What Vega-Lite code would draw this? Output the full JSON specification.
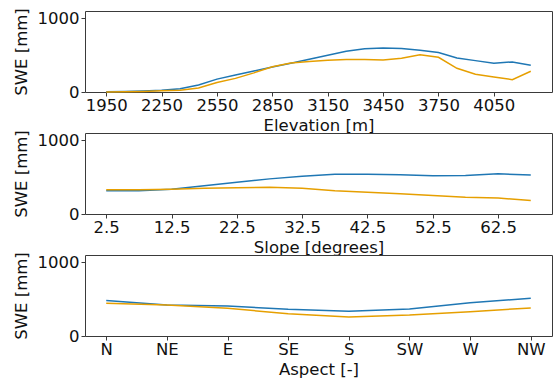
{
  "$schema": "https://vega.github.io/schema/vega-lite/v6.json",
  "autosize": {"type": "pad"},
  "padding": {"left": 12, "top": 7, "right": 0, "bottom": 0},
  "background": "white",
  "bounds": "flush",
  "spacing": 41,
  "config": {
    "font": "DejaVu Sans",
    "view": {"stroke": "#3a3a3a", "strokeWidth": 1},
    "axis": {
      "grid": false,
      "domain": false,
      "labelFont": "DejaVu Sans",
      "labelFontSize": 16.5,
      "labelColor": "#111",
      "titleFont": "DejaVu Sans",
      "titleFontSize": 16.5,
      "titleFontWeight": "normal",
      "titleColor": "#111",
      "tickColor": "#3a3a3a",
      "tickSize": 4,
      "labelPadding": 2
    },
    "axisY": {"titlePadding": 8},
    "axisX": {"titlePadding": 4, "labelPadding": 1, "labelAngle": 0},
    "line": {"strokeWidth": 1.5}
  },
  "datasets": {
    "elevation": [
      {"elev": 1950, "set": "A", "swe": 5}, {"elev": 1950, "set": "B", "swe": 0},
      {"elev": 2050, "set": "A", "swe": 8}, {"elev": 2050, "set": "B", "swe": 3},
      {"elev": 2150, "set": "A", "swe": 13}, {"elev": 2150, "set": "B", "swe": 8},
      {"elev": 2250, "set": "A", "swe": 23}, {"elev": 2250, "set": "B", "swe": 16},
      {"elev": 2350, "set": "A", "swe": 45}, {"elev": 2350, "set": "B", "swe": 25},
      {"elev": 2450, "set": "A", "swe": 95}, {"elev": 2450, "set": "B", "swe": 55},
      {"elev": 2550, "set": "A", "swe": 175}, {"elev": 2550, "set": "B", "swe": 130},
      {"elev": 2650, "set": "A", "swe": 230}, {"elev": 2650, "set": "B", "swe": 185},
      {"elev": 2750, "set": "A", "swe": 285}, {"elev": 2750, "set": "B", "swe": 260},
      {"elev": 2850, "set": "A", "swe": 340}, {"elev": 2850, "set": "B", "swe": 342},
      {"elev": 2950, "set": "A", "swe": 390}, {"elev": 2950, "set": "B", "swe": 395},
      {"elev": 3050, "set": "A", "swe": 445}, {"elev": 3050, "set": "B", "swe": 415},
      {"elev": 3150, "set": "A", "swe": 500}, {"elev": 3150, "set": "B", "swe": 432},
      {"elev": 3250, "set": "A", "swe": 553}, {"elev": 3250, "set": "B", "swe": 440},
      {"elev": 3350, "set": "A", "swe": 588}, {"elev": 3350, "set": "B", "swe": 440},
      {"elev": 3450, "set": "A", "swe": 598}, {"elev": 3450, "set": "B", "swe": 435},
      {"elev": 3550, "set": "A", "swe": 592}, {"elev": 3550, "set": "B", "swe": 458},
      {"elev": 3650, "set": "A", "swe": 566}, {"elev": 3650, "set": "B", "swe": 505},
      {"elev": 3750, "set": "A", "swe": 535}, {"elev": 3750, "set": "B", "swe": 471},
      {"elev": 3850, "set": "A", "swe": 462}, {"elev": 3850, "set": "B", "swe": 322},
      {"elev": 3950, "set": "A", "swe": 426}, {"elev": 3950, "set": "B", "swe": 240},
      {"elev": 4050, "set": "A", "swe": 390}, {"elev": 4050, "set": "B", "swe": 204},
      {"elev": 4150, "set": "A", "swe": 408}, {"elev": 4150, "set": "B", "swe": 168},
      {"elev": 4250, "set": "A", "swe": 363}, {"elev": 4250, "set": "B", "swe": 281}
    ],
    "slope": [
      {"slope": 2.5, "set": "A", "swe": 316}, {"slope": 2.5, "set": "B", "swe": 330},
      {"slope": 7.5, "set": "A", "swe": 316}, {"slope": 7.5, "set": "B", "swe": 330},
      {"slope": 12.5, "set": "A", "swe": 335}, {"slope": 12.5, "set": "B", "swe": 335},
      {"slope": 17.5, "set": "A", "swe": 385}, {"slope": 17.5, "set": "B", "swe": 349},
      {"slope": 22.5, "set": "A", "swe": 431}, {"slope": 22.5, "set": "B", "swe": 358},
      {"slope": 27.5, "set": "A", "swe": 477}, {"slope": 27.5, "set": "B", "swe": 362},
      {"slope": 32.5, "set": "A", "swe": 514}, {"slope": 32.5, "set": "B", "swe": 349},
      {"slope": 37.5, "set": "A", "swe": 541}, {"slope": 37.5, "set": "B", "swe": 316},
      {"slope": 42.5, "set": "A", "swe": 541}, {"slope": 42.5, "set": "B", "swe": 294},
      {"slope": 47.5, "set": "A", "swe": 532}, {"slope": 47.5, "set": "B", "swe": 275},
      {"slope": 52.5, "set": "A", "swe": 518}, {"slope": 52.5, "set": "B", "swe": 252},
      {"slope": 57.5, "set": "A", "swe": 523}, {"slope": 57.5, "set": "B", "swe": 229},
      {"slope": 62.5, "set": "A", "swe": 546}, {"slope": 62.5, "set": "B", "swe": 216},
      {"slope": 67.5, "set": "A", "swe": 528}, {"slope": 67.5, "set": "B", "swe": 183}
    ],
    "aspect": [
      {"aspect": "N", "set": "A", "swe": 482}, {"aspect": "N", "set": "B", "swe": 445},
      {"aspect": "NE", "set": "A", "swe": 422}, {"aspect": "NE", "set": "B", "swe": 422},
      {"aspect": "E", "set": "A", "swe": 408}, {"aspect": "E", "set": "B", "swe": 376},
      {"aspect": "SE", "set": "A", "swe": 362}, {"aspect": "SE", "set": "B", "swe": 303},
      {"aspect": "S", "set": "A", "swe": 335}, {"aspect": "S", "set": "B", "swe": 257},
      {"aspect": "SW", "set": "A", "swe": 367}, {"aspect": "SW", "set": "B", "swe": 284},
      {"aspect": "W", "set": "A", "swe": 450}, {"aspect": "W", "set": "B", "swe": 330},
      {"aspect": "NW", "set": "A", "swe": 514}, {"aspect": "NW", "set": "B", "swe": 381}
    ]
  },
  "vconcat": [
    {
      "width": 467,
      "height": 81,
      "data": {"name": "elevation"},
      "mark": "line",
      "encoding": {
        "x": {
          "field": "elev", "type": "quantitative", "title": "Elevation [m]",
          "scale": {"domain": [1835, 4365], "nice": false, "zero": false},
          "axis": {"values": [1950, 2250, 2550, 2850, 3150, 3450, 3750, 4050], "format": "d"}
        },
        "y": {
          "field": "swe", "type": "quantitative", "title": "SWE [mm]",
          "scale": {"domain": [0, 1100], "nice": false},
          "axis": {"values": [0, 1000], "format": "d"}
        },
        "color": {
          "field": "set", "type": "nominal", "legend": null,
          "scale": {"domain": ["A", "B"], "range": ["#1f77b4", "#e69f00"]}
        }
      }
    },
    {
      "width": 467,
      "height": 81,
      "data": {"name": "slope"},
      "mark": "line",
      "encoding": {
        "x": {
          "field": "slope", "type": "quantitative", "title": "Slope [degrees]",
          "scale": {"domain": [-0.75, 70.75], "nice": false, "zero": false},
          "axis": {"values": [2.5, 12.5, 22.5, 32.5, 42.5, 52.5, 62.5], "format": ".1f"}
        },
        "y": {
          "field": "swe", "type": "quantitative", "title": "SWE [mm]",
          "scale": {"domain": [0, 1100], "nice": false},
          "axis": {"values": [0, 1000], "format": "d"}
        },
        "color": {
          "field": "set", "type": "nominal", "legend": null,
          "scale": {"domain": ["A", "B"], "range": ["#1f77b4", "#e69f00"]}
        }
      }
    },
    {
      "width": 467,
      "height": 81,
      "data": {"name": "aspect"},
      "mark": "line",
      "encoding": {
        "x": {
          "field": "aspect", "type": "ordinal", "title": "Aspect [-]",
          "sort": ["N", "NE", "E", "SE", "S", "SW", "W", "NW"],
          "scale": {"type": "point", "padding": 0.35}
        },
        "y": {
          "field": "swe", "type": "quantitative", "title": "SWE [mm]",
          "scale": {"domain": [0, 1100], "nice": false},
          "axis": {"values": [0, 1000], "format": "d"}
        },
        "color": {
          "field": "set", "type": "nominal", "legend": null,
          "scale": {"domain": ["A", "B"], "range": ["#1f77b4", "#e69f00"]}
        }
      }
    }
  ]
}
